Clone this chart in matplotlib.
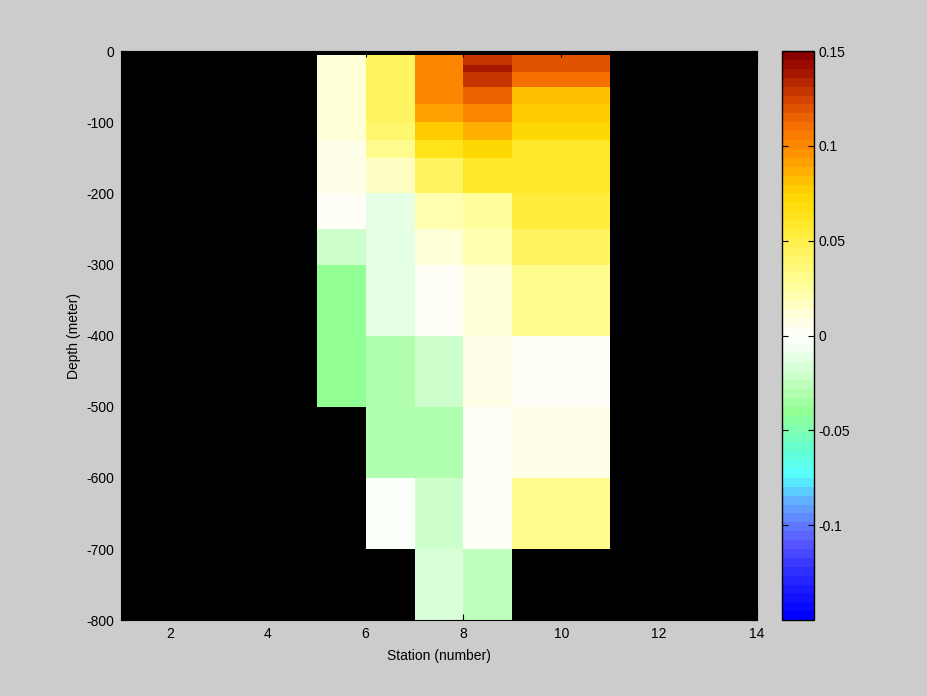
import numpy as np
import matplotlib
matplotlib.use("Agg")
import matplotlib.pyplot as plt
from matplotlib.colors import LinearSegmentedColormap

# station edges and depth edges of the grid
station_edges = [5, 6, 7, 8, 9, 11]
depth_edges = [-5, -20, -30, -50, -75, -100, -125, -150, -200, -250,
               -300, -400, -500, -600, -700, -800]

nan = np.nan
# values per station column, top to bottom
st5 = [0.012, 0.012, 0.012, 0.012, 0.012, 0.012, 0.006, 0.006, 0.002, -0.02,
       -0.042, -0.039, nan, nan, nan]
st6 = [0.045, 0.045, 0.045, 0.045, 0.045, 0.042, 0.032, 0.016, -0.01, -0.01,
       -0.01, -0.03, -0.03, -0.004, nan]
st7 = [0.103, 0.103, 0.103, 0.1, 0.09, 0.077, 0.062, 0.046, 0.02, 0.013,
       0.003, -0.02, -0.03, -0.02, -0.015]
st8 = [0.128, 0.137, 0.13, 0.113, 0.101, 0.087, 0.074, 0.06, 0.028, 0.021,
       0.012, 0.007, 0.003, 0.003, -0.025]
st9 = [0.118, 0.118, 0.108, 0.082, 0.078, 0.072, 0.058, 0.058, 0.052, 0.046,
       0.03, 0.003, 0.008, 0.032, nan]

yticks = [0, -100, -200, -300, -400, -500, -600, -700, -800]
xticks = [2, 4, 6, 8, 10, 12, 14]
cticks = [-0.1, -0.05, 0, 0.05, 0.1, 0.15]

# colormap
anchors = [
    (-0.15, "#0000ff"), (-0.125, "#3030ff"), (-0.11, "#5a5aff"),
    (-0.1, "#6080ff"), (-0.088, "#60b0ff"), (-0.075, "#55ffff"),
    (-0.062, "#62ffd4"), (-0.05, "#80ffb0"), (-0.04, "#92ff92"),
    (-0.025, "#c2ffc2"), (-0.01, "#eaffea"), (0.0, "#ffffff"),
    (0.01, "#ffffe0"), (0.025, "#ffffa0"), (0.04, "#fff870"),
    (0.05, "#fff050"), (0.062, "#ffe620"), (0.075, "#ffd600"),
    (0.088, "#ffb000"), (0.1, "#ff8c00"), (0.112, "#f57000"),
    (0.125, "#d84800"), (0.14, "#a81800"), (0.15, "#880000"),
]
vmin, vmax = -0.15, 0.15
cmap = LinearSegmentedColormap.from_list(
    "bwr_custom", [((v - vmin) / (vmax - vmin), c) for v, c in anchors], N=64)

data = np.ma.masked_invalid(np.array([st5, st6, st7, st8, st9]).T)

plt.rcParams['font.family'] = ['Liberation Sans', 'DejaVu Sans']
plt.rcParams['axes.unicode_minus'] = False
fs = 10
fig = plt.figure(figsize=(9.28, 6.96), dpi=100, facecolor="#cccccc")
ax = fig.add_axes([0.1304, 0.109, 0.6853, 0.8175])
ax.set_facecolor("black")
mesh = ax.pcolormesh(station_edges, depth_edges, data, cmap=cmap,
                     vmin=vmin, vmax=vmax)
ax.set_xlim(1, 14)
ax.set_ylim(-800, 0)
ax.set_xticks(xticks)
ax.set_yticks(yticks)
ax.tick_params(direction="in", labelsize=fs, length=4, top=True, right=True,
               pad=5)
ax.set_xlabel("Station (number)", fontsize=fs, labelpad=6)
ax.set_ylabel("Depth (meter)", fontsize=fs, labelpad=4)

cax = fig.add_axes([0.8424, 0.109, 0.0351, 0.8175])
cb = fig.colorbar(mesh, cax=cax, ticks=cticks)
cb.ax.set_yticklabels(["-0.1", "-0.05", "0", "0.05", "0.1", "0.15"])
cb.ax.tick_params(direction="in", labelsize=fs, length=4, left=True, right=True,
                  pad=3)
cb.outline.set_linewidth(1)

fig.savefig("out.png", dpi=100, facecolor=fig.get_facecolor())
